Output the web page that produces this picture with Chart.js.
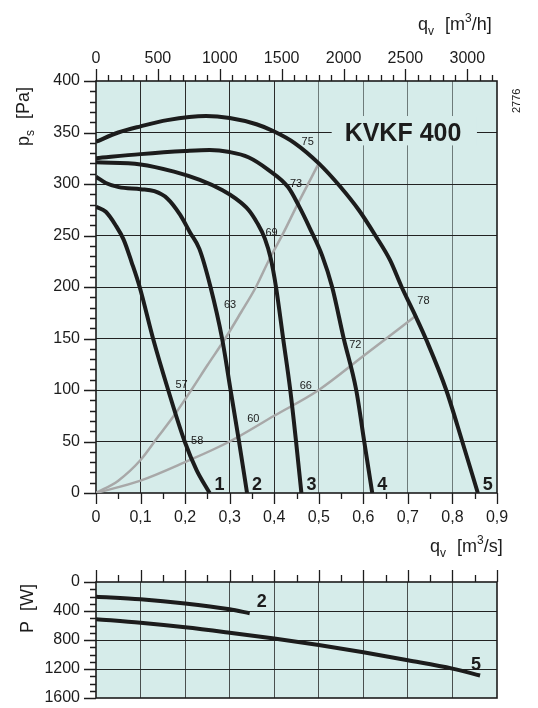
<!DOCTYPE html>
<html>
<head>
<meta charset="utf-8">
<script src="https://cdn.jsdelivr.net/npm/chart.js@4.4.1/dist/chart.umd.min.js"></script>
<style>
  html, body { margin: 0; padding: 0; background: #ffffff; }
  canvas { position: absolute; left: 0; display: block; }
  #fan-chart { top: 0; }
  #power-chart { top: 560px; }
</style>
</head>
<body>
<canvas id="fan-chart" width="538" height="560"></canvas>
<canvas id="power-chart" width="538" height="148"></canvas>
<script>
(function () {
  // axis ticks
  const FLOW_TICKS = [0, 0.1, 0.2, 0.3, 0.4, 0.5, 0.6, 0.7, 0.8, 0.9];
  const FLOW_HOUR_TICKS = [0, 500, 1000, 1500, 2000, 2500, 3000];
  const PRESSURE_TICKS = [0, 50, 100, 150, 200, 250, 300, 350, 400];
  const POWER_TICKS = [0, 400, 800, 1200, 1600];

  // fan curves, [qv m3/s, ps Pa]
  const curve1 = [[0, 278], [0.022, 273], [0.044, 260], [0.062, 246], [0.08, 224], [0.098, 200],
    [0.128, 150], [0.162, 100], [0.199, 50], [0.226, 22], [0.255, 0]];
  const curve2 = [[0, 307], [0.022, 301], [0.051, 297], [0.1, 295], [0.131, 293], [0.16, 286],
    [0.189, 270], [0.211, 253], [0.232, 237], [0.257, 200], [0.283, 150], [0.302, 100],
    [0.321, 50], [0.339, 0]];
  const curve3 = [[0, 321], [0.1, 319], [0.175, 312], [0.233, 304], [0.284, 294], [0.313, 286],
    [0.342, 275], [0.362, 262], [0.379, 247], [0.392, 228], [0.404, 200], [0.42, 150],
    [0.436, 100], [0.449, 50], [0.461, 0]];
  const curve4 = [[0, 325], [0.1, 329], [0.2, 332], [0.255, 333], [0.3, 331], [0.342, 326],
    [0.386, 314], [0.431, 297], [0.455, 279], [0.48, 257], [0.508, 230], [0.53, 200],
    [0.556, 150], [0.584, 100], [0.602, 50], [0.62, 0]];
  const curve5 = [[0, 341], [0.05, 350], [0.1, 356], [0.16, 362], [0.247, 366], [0.3, 364],
    [0.36, 358], [0.4, 351], [0.445, 340], [0.5, 320], [0.547, 298], [0.591, 274],
    [0.627, 250], [0.66, 226], [0.686, 200], [0.718, 171], [0.742, 148], [0.786, 100],
    [0.822, 50], [0.857, 0]];
  const FAN_CURVES = [curve1, curve2, curve3, curve4, curve5];
  const CURVE_NAMES = ["1", "2", "3", "4", "5"];

  // system lines
  const systemSteep = [[0, 0], [0.05, 12], [0.1, 32], [0.14, 55], [0.178, 77], [0.214, 100],
    [0.25, 124], [0.29, 150], [0.325, 175], [0.359, 200], [0.388, 226], [0.42, 252],
    [0.452, 280], [0.5, 320]];
  const systemFlat = [[0, 0], [0.1, 12], [0.2, 30], [0.3, 50], [0.4, 75], [0.5, 100],
    [0.6, 133], [0.718, 172]];

  // efficiency marks and where they sit
  const EFF_TEXT = ["57", "58", "60", "63", "66", "69", "72", "73", "75", "78"];
  const EFF_Q = [0.192, 0.227, 0.353, 0.301, 0.471, 0.394, 0.582, 0.449, 0.475, 0.735];
  const EFF_P = [105, 51, 72, 183, 104, 252, 144, 300, 341, 186];

  // power curves, [qv m3/s, P W]
  const power2 = [[0, 202], [0.1, 238], [0.2, 296], [0.3, 377], [0.345, 430]];
  const power5 = [[0, 512], [0.1, 562], [0.2, 625], [0.3, 700], [0.4, 780], [0.5, 870],
    [0.6, 970], [0.7, 1080], [0.8, 1195], [0.862, 1290]];

  const FONT = "'Liberation Sans', Arial, Helvetica, sans-serif";
  const PLOT_BG = "#d6ecea";
  const INK = "#1c1c1c";

  Chart.defaults.font.family = FONT;
  Chart.defaults.color = INK;

  function toPoints(pairs) {
    return pairs.map(function (p) {
      return { x: p[0], y: p[1] };
    });
  }

  function fixedTicks(list) {
    return function (scale) {
      scale.ticks = list.map(function (v) {
        return { value: v };
      });
    };
  }

  function plainLabel(v) {
    return String(v);
  }

  function commaLabel(v) {
    return String(v).replace(".", ",");
  }

  function lineSet(pairs, color, width, order) {
    return {
      data: toPoints(pairs),
      showLine: true,
      borderColor: color,
      borderWidth: width,
      pointRadius: 0,
      fill: false,
      cubicInterpolationMode: "monotone",
      borderCapStyle: "butt",
      order: order,
    };
  }

  // tick marks: every `step`, long every `every` steps
  function drawTickMarks(ctx, scale, from, to, step, every, longLen, shortLen, side) {
    ctx.save();
    ctx.strokeStyle = INK;
    ctx.lineWidth = 1.3;
    ctx.beginPath();
    const count = Math.round((to - from) / step);
    for (let i = 0; i <= count; i++) {
      const v = from + i * step;
      const len = i % every === 0 ? longLen : shortLen;
      const pos = Math.round(scale.getPixelForValue(v)) + 0.5;
      if (side === "bottom") {
        ctx.moveTo(pos, scale.top);
        ctx.lineTo(pos, scale.top + len);
      } else if (side === "top") {
        ctx.moveTo(pos, scale.bottom);
        ctx.lineTo(pos, scale.bottom - len);
      } else {
        ctx.moveTo(scale.right, pos);
        ctx.lineTo(scale.right - len, pos);
      }
    }
    ctx.stroke();
    ctx.restore();
  }

  function drawFrame(ctx, area) {
    ctx.save();
    ctx.strokeStyle = INK;
    ctx.lineWidth = 1.6;
    ctx.strokeRect(area.left, area.top, area.right - area.left, area.bottom - area.top);
    ctx.restore();
  }

  // q_v [m^3/unit]
  function drawFlowTitle(ctx, x, baseline, unit) {
    ctx.save();
    ctx.fillStyle = INK;
    ctx.textBaseline = "alphabetic";
    ctx.textAlign = "left";
    ctx.font = "18px " + FONT;
    ctx.fillText("q", x, baseline);
    x += ctx.measureText("q").width;
    ctx.font = "12px " + FONT;
    ctx.fillText("v", x, baseline + 5);
    x += ctx.measureText("v").width + 11;
    ctx.font = "18px " + FONT;
    ctx.fillText("[m", x, baseline);
    x += ctx.measureText("[m").width;
    ctx.font = "12px " + FONT;
    ctx.fillText("3", x, baseline - 8);
    x += ctx.measureText("3").width;
    ctx.font = "18px " + FONT;
    ctx.fillText("/" + unit + "]", x, baseline);
    ctx.restore();
  }

  function drawRotated(ctx, x, y, draw) {
    ctx.save();
    ctx.translate(x, y);
    ctx.rotate(-Math.PI / 2);
    ctx.fillStyle = INK;
    ctx.textBaseline = "alphabetic";
    ctx.textAlign = "left";
    draw(ctx);
    ctx.restore();
  }

  const bgPlugin = {
    id: "plotBackground",
    beforeDraw: function (chart) {
      const a = chart.chartArea;
      const ctx = chart.ctx;
      ctx.save();
      ctx.fillStyle = PLOT_BG;
      ctx.fillRect(a.left, a.top, a.right - a.left, a.bottom - a.top);
      ctx.restore();
    },
  };

  const fanDecor = {
    id: "fanDecor",
    beforeDatasetsDraw: function (chart) {
      const ctx = chart.ctx;
      const x = chart.scales.x;
      const y = chart.scales.y;
      // gap in the grid behind the type name
      const bx0 = x.getPixelForValue(0.529);
      const bx1 = x.getPixelForValue(0.855);
      const by0 = y.getPixelForValue(366);
      const by1 = y.getPixelForValue(337.5);
      ctx.save();
      ctx.fillStyle = PLOT_BG;
      ctx.fillRect(bx0, by0, bx1 - bx0, by1 - by0);
      ctx.fillStyle = INK;
      ctx.font = "bold 25px " + FONT;
      ctx.textAlign = "center";
      ctx.textBaseline = "alphabetic";
      ctx.fillText("KVKF 400", x.getPixelForValue(0.689), y.getPixelForValue(341.8));
      ctx.restore();
      drawFrame(ctx, chart.chartArea);
    },
    afterDatasetsDraw: function (chart) {
      const ctx = chart.ctx;
      const x = chart.scales.x;
      const y = chart.scales.y;
      ctx.save();
      ctx.fillStyle = INK;
      ctx.font = "11px " + FONT;
      ctx.textAlign = "center";
      ctx.textBaseline = "middle";
      EFF_TEXT.forEach(function (t, i) {
        ctx.fillText(t, x.getPixelForValue(EFF_Q[i]), y.getPixelForValue(EFF_P[i]));
      });
      ctx.font = "bold 18px " + FONT;
      ctx.textAlign = "left";
      ctx.textBaseline = "alphabetic";
      FAN_CURVES.forEach(function (c, i) {
        const end = c[c.length - 1];
        ctx.fillText(CURVE_NAMES[i], x.getPixelForValue(end[0]) + 5, y.getPixelForValue(end[1]) - 3);
      });
      ctx.restore();
    },
    afterDraw: function (chart) {
      const ctx = chart.ctx;
      drawTickMarks(ctx, chart.scales.x, 0, 0.9, 0.05, 2, 11, 6, "bottom");
      drawTickMarks(ctx, chart.scales.xh, 0, 3200, 100, 5, 12, 6, "top");
      drawTickMarks(ctx, chart.scales.y, 0, 400, 10, 5, 12, 6, "left");
      drawFlowTitle(ctx, 418, 30, "h");
      drawFlowTitle(ctx, 430, 552, "s");
      drawRotated(ctx, 29, 146, function (c) {
        c.font = "18px " + FONT;
        c.fillText("p", 0, 0);
        let w = c.measureText("p").width;
        c.font = "12px " + FONT;
        c.fillText("s", w, 5);
        w += c.measureText("s").width + 11;
        c.font = "18px " + FONT;
        c.fillText("[Pa]", w, 0);
      });
      drawRotated(ctx, 520, 113, function (c) {
        c.font = "11px " + FONT;
        c.fillText("2776", 0, 0);
      });
    },
  };

  const powerDecor = {
    id: "powerDecor",
    beforeDatasetsDraw: function (chart) {
      drawFrame(chart.ctx, chart.chartArea);
    },
    afterDatasetsDraw: function (chart) {
      const ctx = chart.ctx;
      const x = chart.scales.x;
      const y = chart.scales.y;
      const e2 = power2[power2.length - 1];
      const e5 = power5[power5.length - 1];
      ctx.save();
      ctx.fillStyle = INK;
      ctx.font = "bold 18px " + FONT;
      ctx.textBaseline = "alphabetic";
      ctx.textAlign = "left";
      ctx.fillText("2", x.getPixelForValue(e2[0]) + 7, y.getPixelForValue(e2[1]) - 6);
      ctx.textAlign = "center";
      ctx.fillText("5", x.getPixelForValue(e5[0]) - 4, y.getPixelForValue(e5[1]) - 6);
      ctx.restore();
    },
    afterDraw: function (chart) {
      const ctx = chart.ctx;
      drawTickMarks(ctx, chart.scales.x, 0, 0.9, 0.05, 2, 12, 7, "top");
      drawTickMarks(ctx, chart.scales.y, 0, 1600, 100, 4, 12, 6, "left");
      drawRotated(ctx, 33, 73, function (c) {
        c.font = "18px " + FONT;
        c.fillText("P  [W]", 0, 0);
      });
    },
  };

  const tickFont = { size: 16, family: FONT };

  new Chart(document.getElementById("fan-chart"), {
    type: "scatter",
    data: {
      datasets: FAN_CURVES.map(function (c) {
        return lineSet(c, INK, 4, 0);
      }).concat([
        lineSet(systemSteep, "#a8a8a8", 2.5, 1),
        lineSet(systemFlat, "#a8a8a8", 2.5, 1),
      ]),
    },
    options: {
      responsive: false,
      animation: false,
      events: [],
      devicePixelRatio: 1,
      layout: { padding: { left: 0, right: 41, top: 0, bottom: 0 } },
      plugins: { legend: { display: false }, tooltip: { enabled: false } },
      scales: {
        x: {
          type: "linear",
          position: "bottom",
          min: 0,
          max: 0.9,
          afterBuildTicks: fixedTicks(FLOW_TICKS),
          afterFit: function (s) { s.height = 67; },
          ticks: { callback: commaLabel, font: tickFont, color: INK, padding: 15, maxRotation: 0, autoSkip: false },
          grid: {
            drawTicks: false,
            lineWidth: 1,
            color: function (ctx) {
              const v = ctx.tick ? ctx.tick.value : 0;
              if (v <= 0 || v >= 0.9) return "rgba(0,0,0,0)";
              return v < 0.45 ? "#2b2b2b" : "#6e7b7a";
            },
          },
          border: { display: false },
        },
        xh: {
          type: "linear",
          position: "top",
          min: 0,
          max: 3240,
          afterBuildTicks: fixedTicks(FLOW_HOUR_TICKS),
          afterFit: function (s) { s.height = 81; },
          ticks: { callback: plainLabel, font: tickFont, color: INK, padding: 13, maxRotation: 0, autoSkip: false },
          grid: { drawOnChartArea: false, drawTicks: false },
          border: { display: false },
        },
        y: {
          type: "linear",
          position: "left",
          min: 0,
          max: 400,
          afterBuildTicks: fixedTicks(PRESSURE_TICKS),
          afterFit: function (s) { s.width = 96; },
          ticks: { callback: plainLabel, font: tickFont, color: INK, padding: 16, autoSkip: false },
          grid: {
            drawTicks: false,
            lineWidth: 1,
            color: function (ctx) {
              const v = ctx.tick ? ctx.tick.value : 0;
              return v <= 0 || v >= 400 ? "rgba(0,0,0,0)" : "#222222";
            },
          },
          border: { display: false },
        },
      },
    },
    plugins: [bgPlugin, fanDecor],
  });

  new Chart(document.getElementById("power-chart"), {
    type: "scatter",
    data: {
      datasets: [lineSet(power2, INK, 4, 0), lineSet(power5, INK, 4, 0)],
    },
    options: {
      responsive: false,
      animation: false,
      events: [],
      devicePixelRatio: 1,
      layout: { padding: { left: 0, right: 41, top: 0, bottom: 10 } },
      plugins: { legend: { display: false }, tooltip: { enabled: false } },
      scales: {
        x: {
          type: "linear",
          position: "top",
          min: 0,
          max: 0.9,
          afterBuildTicks: fixedTicks(FLOW_TICKS),
          afterFit: function (s) { s.height = 22; },
          ticks: { display: false },
          grid: {
            drawTicks: false,
            color: function (ctx) {
              const v = ctx.tick ? ctx.tick.value : 0;
              return v <= 0 || v >= 0.9 ? "rgba(0,0,0,0)" : "#4a4f4f";
            },
          },
          border: { display: false },
        },
        y: {
          type: "linear",
          position: "left",
          reverse: true,
          min: 0,
          max: 1600,
          afterBuildTicks: fixedTicks(POWER_TICKS),
          afterFit: function (s) {
            s.width = 96;
            s.paddingTop = 0;
            s.paddingBottom = 0;
          },
          ticks: { callback: plainLabel, font: tickFont, color: INK, padding: 16, autoSkip: false },
          grid: {
            drawTicks: false,
            color: function (ctx) {
              const v = ctx.tick ? ctx.tick.value : 0;
              return v <= 0 || v >= 1600 ? "rgba(0,0,0,0)" : "#222222";
            },
          },
          border: { display: false },
        },
      },
    },
    plugins: [bgPlugin, powerDecor],
  });
})();
</script>
</body>
</html>
